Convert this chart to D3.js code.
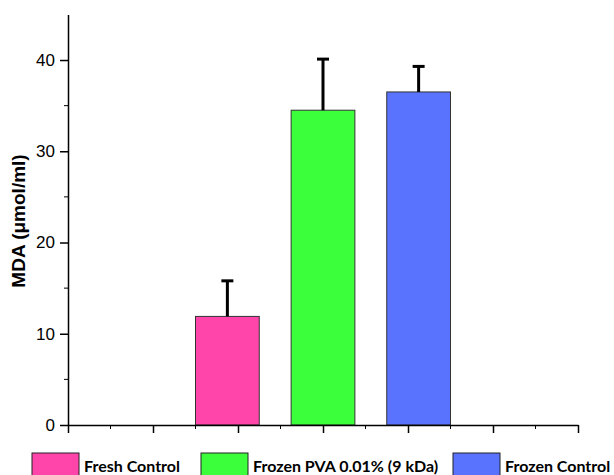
<!DOCTYPE html>
<html><head><meta charset="utf-8">
<script src="https://cdn.jsdelivr.net/npm/d3@7"></script>
<style>body{margin:0;background:#fff}svg{display:block}</style>
</head><body>
<script>
const categories = ["Fresh Control", "Frozen PVA 0.01% (9 kDa)", "Frozen Control"];
const positions = [1.875, 3.0, 4.125];
const values = [11.9, 34.5, 36.5];
const errors = [3.9, 5.6, 2.8];
const colors = ["#FF44AA", "#3AFF3A", "#5A73FF"];
const yTicks = [0, 10, 20, 30, 40];
const yMinorTicks = [5, 15, 25, 35];
const xMajorTicks = [0, 1, 2, 3, 4, 5, 6];
const xMinorTicks = [0.5, 1.5, 2.5, 3.5, 4.5, 5.5];

const W = 614, H = 475;
const svg = d3.select("body").append("svg").attr("width", W).attr("height", H);
const x = d3.scaleLinear().domain([0, 6]).range([68, 578]);
const y = d3.scaleLinear().domain([0, 45]).range([425, 14.4]);
const barW = x(0.75) - x(0);

// bars
svg.selectAll("rect.bar").data(values).join("rect")
  .attr("class", "bar")
  .attr("x", (d, i) => x(positions[i]) - barW / 2)
  .attr("y", d => y(d))
  .attr("width", barW)
  .attr("height", d => y(0) - y(d))
  .attr("fill", (d, i) => colors[i])
  .attr("stroke", "#333").attr("stroke-width", 1);

// error bars
const eg = svg.append("g").attr("stroke", "#000").attr("stroke-width", 3);
values.forEach((v, i) => {
  const cx = x(positions[i]);
  eg.append("line").attr("x1", cx).attr("x2", cx).attr("y1", y(v)).attr("y2", y(v + errors[i]));
  eg.append("line").attr("x1", cx - 6).attr("x2", cx + 6).attr("y1", y(v + errors[i])).attr("y2", y(v + errors[i]));
});

// y axis
const yAxis = svg.append("g").attr("transform", `translate(${x(0)},0)`)
  .call(d3.axisLeft(y).tickValues(yTicks).tickSize(8).tickPadding(5).tickSizeOuter(0));
yAxis.append("g").selectAll("line").data(yMinorTicks).join("line")
  .attr("x1", -4).attr("x2", 0).attr("y1", d => y(d)).attr("y2", d => y(d)).attr("stroke", "#000");
yAxis.selectAll("text").attr("font-family", "Liberation Sans, Arial, sans-serif").attr("font-size", 17).attr("fill", "#000");
yAxis.select(".domain").attr("stroke-width", 1.5);
yAxis.selectAll(".tick line").attr("stroke-width", 1.5);

// x axis
const xAxis = svg.append("g").attr("transform", `translate(0,${y(0)})`)
  .call(d3.axisBottom(x).tickValues(xMajorTicks).tickSize(8).tickFormat("").tickSizeOuter(0));
xAxis.append("g").selectAll("line").data(xMinorTicks).join("line")
  .attr("x1", d => x(d)).attr("x2", d => x(d)).attr("y1", 0).attr("y2", 4).attr("stroke", "#000");
xAxis.select(".domain").attr("stroke-width", 1.5);
xAxis.selectAll(".tick line").attr("stroke-width", 1.5);

// y title
svg.append("text")
  .attr("transform", `translate(25,221) rotate(-90)`)
  .attr("text-anchor", "middle")
  .attr("font-family", "Liberation Sans, Arial, sans-serif")
  .attr("font-weight", "bold").attr("font-size", 19)
  .text("MDA (\u03BCmol/ml)");

// legend
const legX = [32, 201, 453];
const lg = svg.append("g");
categories.forEach((c, i) => {
  lg.append("rect").attr("x", legX[i]).attr("y", 453).attr("width", 47).attr("height", 24)
    .attr("fill", colors[i]).attr("stroke", "#222").attr("stroke-width", 1);
  lg.append("text").attr("x", legX[i] + 52).attr("y", 472)
    .attr("font-family", "Lato, Carlito, sans-serif").attr("font-weight", "bold").attr("font-size", 16)
    .text(c);
});
</script>
</body></html>
